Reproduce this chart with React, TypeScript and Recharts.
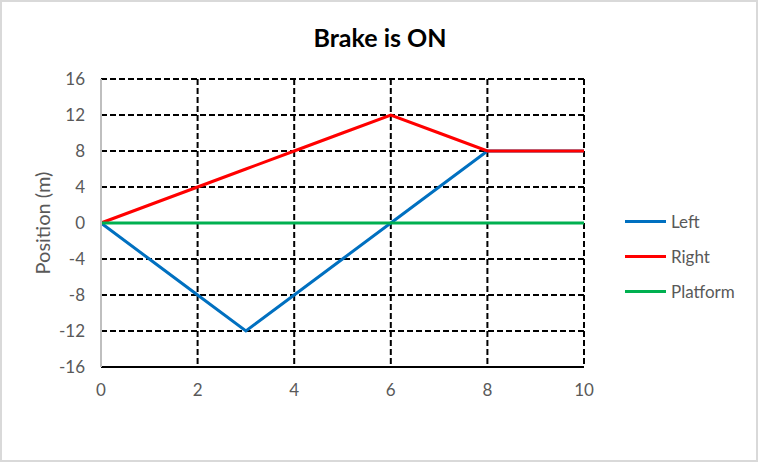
import React from "react";
import { LineChart, Line, XAxis, YAxis, CartesianGrid, Legend } from "recharts";

const time = [0, 1, 2, 3, 4, 5, 6, 7, 8, 9, 10];
const left = [0, -4, -8, -12, -8, -4, 0, 4, 8, 8, 8];
const right = [0, 2, 4, 6, 8, 10, 12, 10, 8, 8, 8];
const platform = [0, 0, 0, 0, 0, 0, 0, 0, 0, 0, 0];
const xTicks = [0, 2, 4, 6, 8, 10];
const yTicks = [-16, -12, -8, -4, 0, 4, 8, 12, 16];

const seriesNames = ["Left", "Right", "Platform"];
const seriesColors = ["#0070C0", "#FF0000", "#00B050"];

const data = time.map((t, i) => ({ t, Left: left[i], Right: right[i], Platform: platform[i] }));

const FONT = "Lato, 'Noto Sans', sans-serif";
const GRAY = "#595959";

function LegendContent() {
  return (
    <div style={{ fontFamily: FONT, fontSize: 17, color: GRAY }}>
      {seriesNames.map((n, i) => (
        <div key={n} style={{ display: "flex", alignItems: "center", height: 35 }}>
          <div style={{ width: 41, height: 3, background: seriesColors[i], marginRight: 5 }} />
          <span>{n}</span>
        </div>
      ))}
    </div>
  );
}

export default function App() {
  return (
    <div
      style={{
        position: "absolute",
        left: 0,
        top: 0,
        width: 758,
        height: 462,
        boxSizing: "border-box",
        border: "2px solid #D9D9D9",
        background: "#fff",
      }}
    >
      <div
        style={{
          position: "absolute",
          left: 0,
          top: 20,
          width: 756,
          textAlign: "center",
          fontFamily: FONT,
          fontWeight: 700,
          fontSize: 25,
          color: "#000",
        }}
      >
        Brake is ON
      </div>
      <div style={{ position: "absolute", left: -2, top: -2 }}>
        <LineChart
          width={758}
          height={462}
          data={data}
          margin={{ top: 79, right: 174, bottom: 0, left: 0 }}
        >
          <CartesianGrid
            stroke="#000"
            strokeWidth={2}
            strokeDasharray="6 3"
            horizontalValues={[-12, -8, -4, 0, 4, 8, 12, 16]}
            verticalValues={[2, 4, 6, 8, 10]}
          />
          <XAxis
            dataKey="t"
            type="number"
            domain={[0, 10]}
            ticks={xTicks}
            tickLine={false}
            axisLine={{ stroke: "#000", strokeWidth: 2 }}
            tick={{ fill: GRAY, fontSize: 17, fontFamily: FONT }}
            tickMargin={11}
            height={95}
          />
          <YAxis
            type="number"
            domain={[-16, 16]}
            ticks={yTicks}
            interval={0}
            tickLine={false}
            axisLine={{ stroke: "#BFBFBF", strokeWidth: 2 }}
            tick={{ fill: GRAY, fontSize: 17, fontFamily: FONT }}
            tickMargin={10}
            width={101}
            label={{
              content: () => (
                <text
                  x={42}
                  y={223}
                  transform="rotate(-90, 42, 223)"
                  textAnchor="middle"
                  dominantBaseline="central"
                  fill={GRAY}
                  fontSize={20}
                  fontFamily={FONT}
                >
                  Position (m)
                </text>
              ),
            }}
          />
          <Legend
            layout="vertical"
            align="center"
            verticalAlign="middle"
            content={<LegendContent />}
            wrapperStyle={{ left: 625, top: 204, width: 130 }}
          />
          {seriesNames.map((n, i) => (
            <Line
              key={n}
              dataKey={n}
              stroke={seriesColors[i]}
              strokeWidth={3}
              dot={false}
              isAnimationActive={false}
              type="linear"
            />
          ))}
        </LineChart>
      </div>
    </div>
  );
}
